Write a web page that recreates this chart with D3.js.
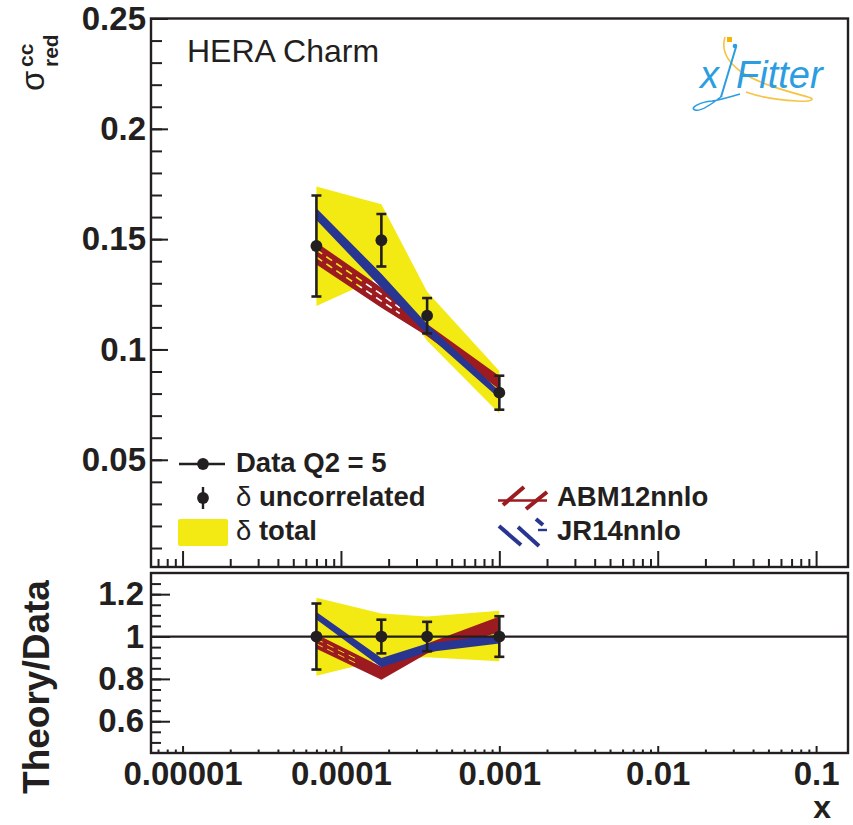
<!DOCTYPE html>
<html><head><meta charset="utf-8">
<script src="https://cdn.jsdelivr.net/npm/d3@7"></script>
<style>body{margin:0;background:#fff} svg{display:block} text{font-family:"Liberation Sans",Arial,Helvetica,sans-serif}</style>
</head><body><div id="chart"></div>
<script>
// ---- data ----
const xVals = [0.00007, 0.00018, 0.00035, 0.001];
const sigmaRed = [0.1469, 0.1495, 0.1153, 0.0804];
const errUncor = [0.0229, 0.0119, 0.0080, 0.0077];
const totLow  = [0.1197, 0.1331, 0.1040, 0.0710];
const totHigh = [0.1738, 0.1658, 0.1262, 0.0902];
const abmLow  = [0.1385, 0.1189, 0.1060, 0.0820];
const abmHigh = [0.1485, 0.1281, 0.1115, 0.0880];
const jrLow   = [0.1587, 0.1278, 0.1068, 0.0778];
const jrHigh  = [0.1640, 0.1343, 0.1115, 0.0812];
const xTickValues = [1e-5, 1e-4, 1e-3, 1e-2, 1e-1];
const xTickLabels = ["0.00001", "0.0001", "0.001", "0.01", "0.1"];
const yTickValues = [0.05, 0.1, 0.15, 0.2, 0.25];
const yTickLabels = ["0.05", "0.1", "0.15", "0.2", "0.25"];
const rTickValues = [0.6, 0.8, 1, 1.2];
const rTickLabels = ["0.6", "0.8", "1", "1.2"];
const legendData = ["Data Q2 = 5", "uncorrelated", "total"];
const seriesNames = ["ABM12nnlo", "JR14nnlo"];

// ---- styles ----
const BLACK = "#231f20", YELLOW = "#f3ea13", RED = "#9c1b20", BLUE = "#283591";
const LOGO_BLUE = "#2b9de0", LOGO_YEL = "#f6c343";
const FONT = '"Liberation Sans", Arial, Helvetica, sans-serif';

const W = 853, H = 825;
const L = 151, R = 848;
const T1 = 18.5, B1 = 567, T2 = 573, B2 = 753;

const svg = d3.select("#chart").append("svg").attr("width", W).attr("height", H)
  .attr("font-family", FONT);
svg.append("rect").attr("width", W).attr("height", H).attr("fill", "#fff");

const x = d3.scaleLog().domain([6.32e-6, 0.159]).range([L, R]);
const yT = d3.scaleLinear().domain([0.0014, 0.25]).range([B1, T1]);
const yR = d3.scaleLinear().domain([0.45, 1.3]).range([B2, T2]);

const defs = svg.append("defs");
defs.append("clipPath").attr("id", "clipTop").append("rect")
  .attr("x", L).attr("y", T1).attr("width", R - L).attr("height", B1 - T1);
defs.append("clipPath").attr("id", "clipRat").append("rect")
  .attr("x", L).attr("y", T2).attr("width", R - L).attr("height", B2 - T2);

const pts = xVals.map((xv, i) => ({
  x: xv, y: sigmaRed[i], e: errUncor[i],
  tl: totLow[i], th: totHigh[i],
  al: abmLow[i], ah: abmHigh[i], jl: jrLow[i], jh: jrHigh[i]
}));

// interpolate along band (log-x) at fractional index t
function interp(t, fLo, fHi, frac) {
  const i = Math.min(Math.floor(t), pts.length - 2), u = t - i;
  const a = pts[i], b = pts[i + 1];
  const lx = Math.log10(a.x) + u * (Math.log10(b.x) - Math.log10(a.x));
  const va = fLo(a) + frac * (fHi(a) - fLo(a));
  const vb = fLo(b) + frac * (fHi(b) - fLo(b));
  return { x: Math.pow(10, lx), v: va + u * (vb - va) };
}

function drawPanel(g, y, ratio, id, dashEnd, dashW) {
  const div = d => ratio ? d.y : 1;
  const area = (lo, hi) => d3.area().x(d => x(d.x)).y0(d => y(lo(d) / div(d))).y1(d => y(hi(d) / div(d)));
  // total uncertainty band
  g.append("path").datum(pts).attr("d", area(d => d.tl, d => d.th)).attr("fill", YELLOW);
  // ABM band with hatch gaps (mask)
  const mask = defs.append("mask").attr("id", "mask" + id);
  mask.append("rect").attr("x", 0).attr("y", 0).attr("width", W).attr("height", H).attr("fill", "#fff");
  [0.33, 0.66].forEach(fr => {
    const steps = d3.range(0, dashEnd + 0.001, 0.05).map(t => interp(t, d => d.al / div(d), d => d.ah / div(d), fr));
    mask.append("path").datum(steps)
      .attr("d", d3.line().x(p => x(p.x)).y(p => y(p.v)))
      .attr("fill", "none").attr("stroke", "#000").attr("stroke-width", dashW)
      .attr("stroke-dasharray", "7,5");
  });
  g.append("path").datum(pts).attr("d", area(d => d.al, d => d.ah)).attr("fill", RED)
    .attr("mask", "url(#mask" + id + ")");
  // JR band
  g.append("path").datum(pts).attr("d", area(d => d.jl, d => d.jh)).attr("fill", BLUE);
  if (ratio) {
    g.append("line").attr("x1", L).attr("x2", R).attr("y1", y(1)).attr("y2", y(1))
      .attr("stroke", BLACK).attr("stroke-width", 2.2);
  }
  // data points with uncorrelated errors
  const dp = g.selectAll(".dp" + id).data(pts).enter().append("g");
  dp.append("line").attr("x1", d => x(d.x)).attr("x2", d => x(d.x))
    .attr("y1", d => y((d.y - d.e) / div(d))).attr("y2", d => y((d.y + d.e) / div(d)))
    .attr("stroke", BLACK).attr("stroke-width", 2.6);
  [-1, 1].forEach(s => {
    dp.append("line").attr("x1", d => x(d.x) - 5).attr("x2", d => x(d.x) + 5)
      .attr("y1", d => y((d.y + s * d.e) / div(d))).attr("y2", d => y((d.y + s * d.e) / div(d)))
      .attr("stroke", BLACK).attr("stroke-width", 2.6);
  });
  dp.append("circle").attr("cx", d => x(d.x)).attr("cy", d => y(d.y / div(d))).attr("r", 5.9)
    .attr("fill", BLACK);
}

const gTop = svg.append("g").attr("clip-path", "url(#clipTop)");
drawPanel(gTop, yT, false, "Top", 1.4, 1.6);
const gRat = svg.append("g").attr("clip-path", "url(#clipRat)");
drawPanel(gRat, yR, true, "Rat", 0.6, 1.0);

// ---- axes ----
function styleAxis(g, fs) {
  g.select(".domain").remove();
  g.attr("font-family", FONT).attr("font-size", fs).attr("font-weight", "bold");
  g.selectAll(".tick line").attr("stroke", BLACK).attr("stroke-width", 2);
  g.selectAll(".tick text").attr("fill", BLACK);
}
function minorX() {
  const out = [];
  for (let d = -6; d <= -1; d++) for (let k = 2; k <= 9; k++) {
    const v = k * Math.pow(10, d);
    if (v > x.domain()[0] && v < x.domain()[1]) out.push(v);
  }
  return out;
}
const xMinor = minorX();

// top panel y axis
let g = svg.append("g").attr("transform", `translate(${L},0)`)
  .call(d3.axisLeft(yT).tickValues(yTickValues).tickFormat(d => yTickLabels[yTickValues.indexOf(d)])
    .tickSizeInner(-17).tickSizeOuter(0).tickPadding(5));
styleAxis(g, 33);
g = svg.append("g").attr("transform", `translate(${L},0)`)
  .call(d3.axisLeft(yT).tickValues(d3.range(1, 25).map(k => k / 100)).tickFormat("")
    .tickSizeInner(-11).tickSizeOuter(0));
styleAxis(g, 33);
// top panel x ticks (no labels)
g = svg.append("g").attr("transform", `translate(0,${B1})`)
  .call(d3.axisBottom(x).tickValues(xTickValues).tickFormat("").tickSizeInner(-16).tickSizeOuter(0));
styleAxis(g, 33);
g = svg.append("g").attr("transform", `translate(0,${B1})`)
  .call(d3.axisBottom(x).tickValues(xMinor).tickFormat("").tickSizeInner(-8).tickSizeOuter(0));
styleAxis(g, 33);

// ratio y axis
g = svg.append("g").attr("transform", `translate(${L},0)`)
  .call(d3.axisLeft(yR).tickValues(rTickValues).tickFormat(d => rTickLabels[rTickValues.indexOf(d)])
    .tickSizeInner(-19).tickSizeOuter(0).tickPadding(7));
styleAxis(g, 33);
g = svg.append("g").attr("transform", `translate(${L},0)`)
  .call(d3.axisLeft(yR).tickValues(d3.range(10, 26).map(k => k * 0.05)).tickFormat("")
    .tickSizeInner(-10).tickSizeOuter(0));
styleAxis(g, 33);
// ratio x axis
g = svg.append("g").attr("transform", `translate(0,${B2})`)
  .call(d3.axisBottom(x).tickValues(xTickValues).tickFormat(d => xTickLabels[xTickValues.indexOf(d)])
    .tickSizeInner(-7).tickSizeOuter(0).tickPadding(8.6));
styleAxis(g, 33);
g = svg.append("g").attr("transform", `translate(0,${B2})`)
  .call(d3.axisBottom(x).tickValues(xMinor).tickFormat("").tickSizeInner(-3.5).tickSizeOuter(0));
styleAxis(g, 33);

// frames
svg.append("rect").attr("x", L).attr("y", T1).attr("width", R - L).attr("height", B1 - T1)
  .attr("fill", "none").attr("stroke", BLACK).attr("stroke-width", 2.4);
svg.append("rect").attr("x", L).attr("y", T2).attr("width", R - L).attr("height", B2 - T2)
  .attr("fill", "none").attr("stroke", BLACK).attr("stroke-width", 2.4);

// ---- axis titles ----
svg.append("text").attr("transform", "translate(44,91) rotate(-90)")
  .attr("font-size", 33).attr("fill", BLACK).text("σ");
svg.append("text").attr("transform", "translate(33,67) rotate(-90)")
  .attr("font-size", 21).attr("font-weight", "bold").attr("fill", BLACK).text("cc");
svg.append("text").attr("transform", "translate(58,67) rotate(-90)")
  .attr("font-size", 21).attr("font-weight", "bold").attr("fill", BLACK).text("red");
svg.append("text").attr("transform", "translate(49,687) rotate(-90)")
  .attr("text-anchor", "middle").attr("font-size", 37).attr("font-weight", "bold")
  .attr("fill", BLACK).text("Theory/Data");
svg.append("text").attr("x", 831).attr("y", 818).attr("text-anchor", "end")
  .attr("font-size", 32).attr("font-weight", "bold").attr("fill", BLACK).text("x");
svg.append("text").attr("x", 187).attr("y", 62).attr("font-size", 32).attr("fill", BLACK)
  .text("HERA Charm");

// ---- legend ----
const lg = svg.append("g").attr("font-size", 27.5).attr("font-weight", "bold").attr("fill", BLACK);
lg.append("line").attr("x1", 179).attr("x2", 225).attr("y1", 464).attr("y2", 464)
  .attr("stroke", BLACK).attr("stroke-width", 2.4);
lg.append("circle").attr("cx", 203).attr("cy", 464).attr("r", 5.9).attr("fill", BLACK);
lg.append("text").attr("x", 236).attr("y", 472).text(legendData[0]);
lg.append("line").attr("x1", 203).attr("x2", 203).attr("y1", 487).attr("y2", 509)
  .attr("stroke", BLACK).attr("stroke-width", 2.4);
lg.append("circle").attr("cx", 203).attr("cy", 498).attr("r", 5.9).attr("fill", BLACK);
let t = lg.append("text").attr("x", 236).attr("y", 506);
t.append("tspan").attr("font-weight", "normal").text("δ ");
t.append("tspan").text(legendData[1]);
lg.append("rect").attr("x", 178).attr("y", 519).attr("width", 50).attr("height", 27).attr("rx", 2)
  .attr("fill", YELLOW);
t = lg.append("text").attr("x", 236).attr("y", 540);
t.append("tspan").attr("font-weight", "normal").text("δ ");
t.append("tspan").text(legendData[2]);
// ABM icon
lg.append("line").attr("x1", 498).attr("x2", 547).attr("y1", 500.5).attr("y2", 500.5)
  .attr("stroke", RED).attr("stroke-width", 2.4);
[[503, 505, 524, 487], [526, 509, 547, 492]].forEach(s => lg.append("line")
  .attr("x1", s[0]).attr("y1", s[1]).attr("x2", s[2]).attr("y2", s[3])
  .attr("stroke", RED).attr("stroke-width", 4));
lg.append("text").attr("x", 557).attr("y", 506).text(seriesNames[0]);
// JR icon
[[499, 526, 521, 545], [518, 527, 539, 546], [536, 519, 543, 525]].forEach(s => lg.append("line")
  .attr("x1", s[0]).attr("y1", s[1]).attr("x2", s[2]).attr("y2", s[3])
  .attr("stroke", BLUE).attr("stroke-width", 4));
lg.append("line").attr("x1", 538).attr("x2", 547).attr("y1", 530).attr("y2", 530)
  .attr("stroke", BLUE).attr("stroke-width", 2.4);
lg.append("text").attr("x", 557).attr("y", 540).text(seriesNames[1]);

// ---- xFitter logo ----
const logo = svg.append("g");
logo.append("path").attr("d", "M725,37 C721,50 728,62 740,71 C758,84 790,92 808,97 C816,99 812,102 797,101 C777,100 757,96 746,92")
  .attr("fill", "none").attr("stroke", LOGO_YEL).attr("stroke-width", 1.6);
logo.append("path").attr("d", "M722,96 C712,104 701,112 695,110 C689,108 700,102 712,101 C720,100 730,97 740,94")
  .attr("fill", "none").attr("stroke", LOGO_BLUE).attr("stroke-width", 1.6);
logo.append("line").attr("x1", 736).attr("y1", 47).attr("x2", 721).attr("y2", 97)
  .attr("stroke", LOGO_BLUE).attr("stroke-width", 2);
logo.append("rect").attr("x", 727).attr("y", 37).attr("width", 5).attr("height", 5).attr("fill", "#f5b400");
logo.append("circle").attr("cx", 735).attr("cy", 46).attr("r", 2.3).attr("fill", LOGO_BLUE);
logo.append("text").attr("x", 700).attr("y", 88).attr("font-size", 38).attr("font-style", "italic")
  .attr("fill", LOGO_BLUE).text("x");
logo.append("text").attr("x", 736).attr("y", 88).attr("font-size", 38).attr("font-style", "italic")
  .attr("fill", LOGO_BLUE).text("Fitter");
</script></body></html>
